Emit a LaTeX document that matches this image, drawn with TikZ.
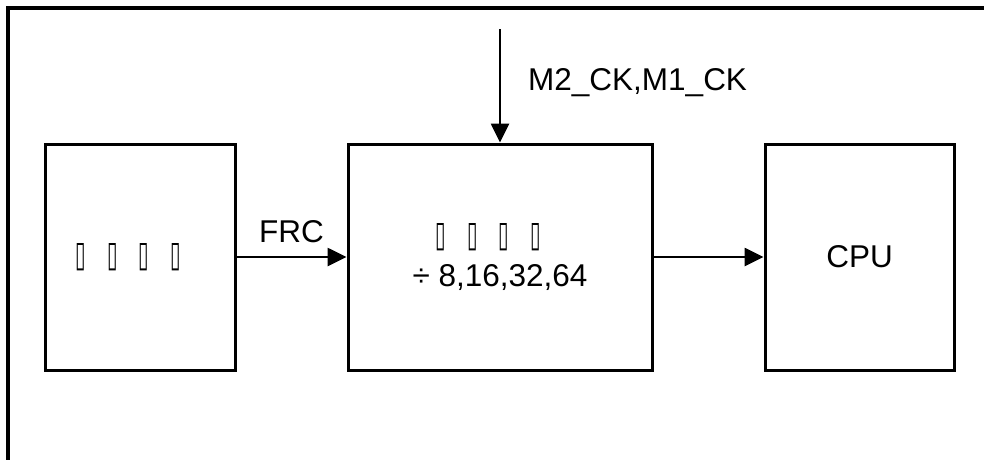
\documentclass[tikz,border=0pt]{standalone}
\usepackage{fontspec}
\usepackage{graphicx}
\setmainfont{Liberation Sans}
\newfontfamily\djfont{DejaVu Sans}
\usetikzlibrary{arrows.meta}
\newcommand\tofu{\makebox[31.5pt][l]{\hspace{-1.5pt}\resizebox{10.5pt}{23pt}{\djfont\char"25AF}}}
\tikzset{
  blk/.style={draw, line width=3pt, minimum height=226pt, inner sep=0pt, font=\fontsize{31.5pt}{40pt}\selectfont, align=center},
  sig/.style={line width=2.7pt, -{Triangle[length=19pt,width=18pt]}},
  lbl/.style={font=\fontsize{31.5pt}{37pt}\selectfont, inner sep=0pt}
}
\begin{document}
\begin{tikzpicture}[x=1pt,y=-1pt]
\useasboundingbox (0,0) rectangle (984,459);
\clip (0,0) rectangle (984,459);
\draw[line width=3.2pt] (8,480) -- (8,8) -- (1000,8);
\node[blk, minimum width=190pt] (osc) at (140,257) {\tofu\tofu\tofu\tofu};
\node[blk, minimum width=304pt] (div) at (500,257) {\tofu\tofu\tofu\tofu\\ ÷ 8,16,32,64};
\node[blk, minimum width=189pt] (cpu) at (859.5,257) {CPU};
\coordinate (clk) at (500,29);
\draw[sig] (osc.east) -- node[lbl, pos=0.5, anchor=base, yshift=15pt] (frc) {FRC} (div.west);
\draw[sig] (div.east) -- (cpu.west);
\draw[sig] (clk) -- (div.north);
\node[lbl, anchor=base west] (mck) at (528,90) {M2\_CK,M1\_CK};
\end{tikzpicture}
\end{document}
